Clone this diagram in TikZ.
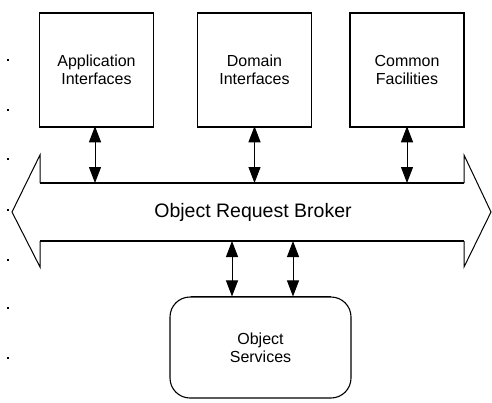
\documentclass[tikz,border=0pt]{standalone}
\usepackage{fontspec}
\setmainfont{Liberation Sans}
\usetikzlibrary{arrows.meta}
\begin{document}
\begin{tikzpicture}[x=1pt,y=-1pt,
  box/.style={draw, line width=1.5pt, minimum width=114pt, minimum height=114pt,
    align=center, inner sep=0pt, font=\fontsize{16}{18}\selectfont},
  svcbox/.style={draw, line width=1.1pt, rounded corners=20pt, minimum width=181pt,
    minimum height=101pt, align=center, inner sep=0pt, font=\fontsize{16}{18}\selectfont},
  link/.style={line width=1pt, {Triangle[width=12pt,length=16pt]}-{Triangle[width=12pt,length=16pt]}},
  band/.style={line width=1pt},
  bandedge/.style={line width=1.6pt},
  tick/.style={fill=black}]
\useasboundingbox (0,0) rectangle (492,402);
% stray marks on the left
\foreach \yy in {60,110,159,210,260,308,358} \fill[tick] (7,\yy-1) rectangle (9,\yy+1);
% boxes
\node[box] (app) at (96.5,70) {Application\\Interfaces};
\node[box] (dom) at (254.5,70) {Domain\\Interfaces};
\node[box] (com) at (407,70) {Common\\Facilities};
\node[svcbox] (svc) at (260.5,347.5) {Object\\Services};
% object request broker (double arrow band)
\coordinate (bandtop) at (252,183);
\coordinate (bandbot) at (252,241);
\coordinate (a1) at (95,183);
\draw[band] (40,183) -- (40,155) -- (12,212) -- (40,267) -- (40,241);
\draw[band] (464,183) -- (464,155) -- (491,212) -- (464,267) -- (464,241);
\draw[bandedge] (40,183) -- (464,183);
\draw[bandedge] (40,241) -- (464,241);
\draw[line width=1.8pt] ([xshift=-70pt]svc.north) -- ([xshift=70pt]svc.north);
\node[font=\fontsize{19.5}{22}\selectfont] (orb) at (253,212) {Object Request Broker};
% connectors
\draw[link] ([yshift=1.5pt]a1 |- app.south) -- (a1);
\draw[link] ([yshift=1.5pt]dom.south) -- (dom.south |- bandtop);
\draw[link] ([yshift=1.5pt]com.south) -- (com.south |- bandtop);
\draw[link] ([xshift=-28.5pt]svc.north |- bandbot) -- ([xshift=-28.5pt]svc.north);
\draw[link] ([xshift=32.5pt]svc.north |- bandbot) -- ([xshift=32.5pt]svc.north);
\end{tikzpicture}
\end{document}
